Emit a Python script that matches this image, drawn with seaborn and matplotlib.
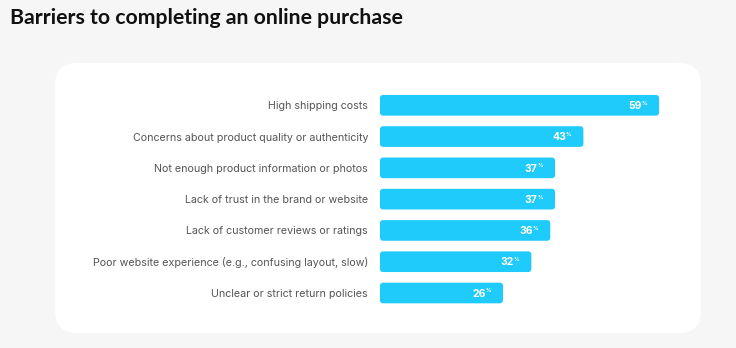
import matplotlib
matplotlib.use("Agg")
import matplotlib.pyplot as plt
import seaborn as sns
import pandas as pd
from matplotlib.patches import FancyBboxPatch

title = "Barriers to completing an online purchase"
categories = [
    "High shipping costs",
    "Concerns about product quality or authenticity",
    "Not enough product information or photos",
    "Lack of trust in the brand or website",
    "Lack of customer reviews or ratings",
    "Poor website experience (e.g., confusing layout, slow)",
    "Unclear or strict return policies",
]
values = [59, 43, 37, 37, 36, 32, 26]

BAR_COLOR = "#1ecbfa"
BG = "#f6f6f6"
LABEL_COLOR = "#555555"

sns.set_theme(style="white")
plt.rcParams["font.family"] = ["Inter", "DejaVu Sans"]

W, H = 736, 348
fig = plt.figure(figsize=(W / 100, H / 100), dpi=100, facecolor=BG)

# white card
card = FancyBboxPatch((55 / W, (H - 333) / H), (701 - 55) / W, (333 - 63) / H,
                      boxstyle="round,pad=0,rounding_size=0.03",
                      transform=fig.transFigure, facecolor="white",
                      edgecolor="none", mutation_aspect=W / H, zorder=-5)
fig.patches.append(card)

fig.text(10 / W, 1 - 18 / H, title, fontsize=15.3, fontweight="bold",
         color="#111111", ha="left", va="center",
         family=["Lato", "DejaVu Sans"])

px_per_unit = 4.73
xmax = 65
ax_left = 380
ax_w = xmax * px_per_unit
step = 31.3
top_c, bot_c = 105.3, 293
ax_top = top_c - step / 2
ax_bot = bot_c + step / 2
ax = fig.add_axes([ax_left / W, (H - ax_bot) / H, ax_w / W, (ax_bot - ax_top) / H])
ax.set_facecolor("none")
ax.set_zorder(2)

df = pd.DataFrame({"category": categories, "value": values})
sns.barplot(data=df, x="value", y="category", color=BAR_COLOR, saturation=1,
            width=0.66, ax=ax, orient="h")

ax.set_xlim(0, xmax)
ax.set_ylim(len(categories) - 0.5, -0.5)

# replace rectangles by slightly rounded bars
x_per_px = 1 / px_per_unit
y_per_px = 1 / step
for p in list(ax.patches):
    x0, y0 = p.get_x(), p.get_y()
    w, h = p.get_width(), p.get_height()
    p.set_visible(False)
    rb = FancyBboxPatch((x0, y0), w, h,
                        boxstyle=f"round,pad=0,rounding_size={3 * x_per_px}",
                        mutation_aspect=y_per_px / x_per_px,
                        facecolor=BAR_COLOR, edgecolor="none", zorder=2)
    ax.add_patch(rb)

for i, v in enumerate(values):
    ax.annotate(f"{v}", xy=(v, i), xytext=(-12.5, -0.5), textcoords="offset points",
                ha="right", va="center", color="white", fontsize=7.5,
                fontweight="bold", zorder=3)
    ax.annotate("%", xy=(v, i), xytext=(-12.6, 1.5), textcoords="offset points",
                ha="left", va="center", color="white", fontsize=4,
                fontweight="bold", zorder=3)

ax.set_xlabel("")
ax.set_ylabel("")
ax.set_xticks([])
ax.tick_params(axis="y", length=0, pad=8.6, labelsize=7.7, labelcolor=LABEL_COLOR)
for s in ax.spines.values():
    s.set_visible(False)

fig.savefig("out.png", dpi=100, facecolor=BG)
